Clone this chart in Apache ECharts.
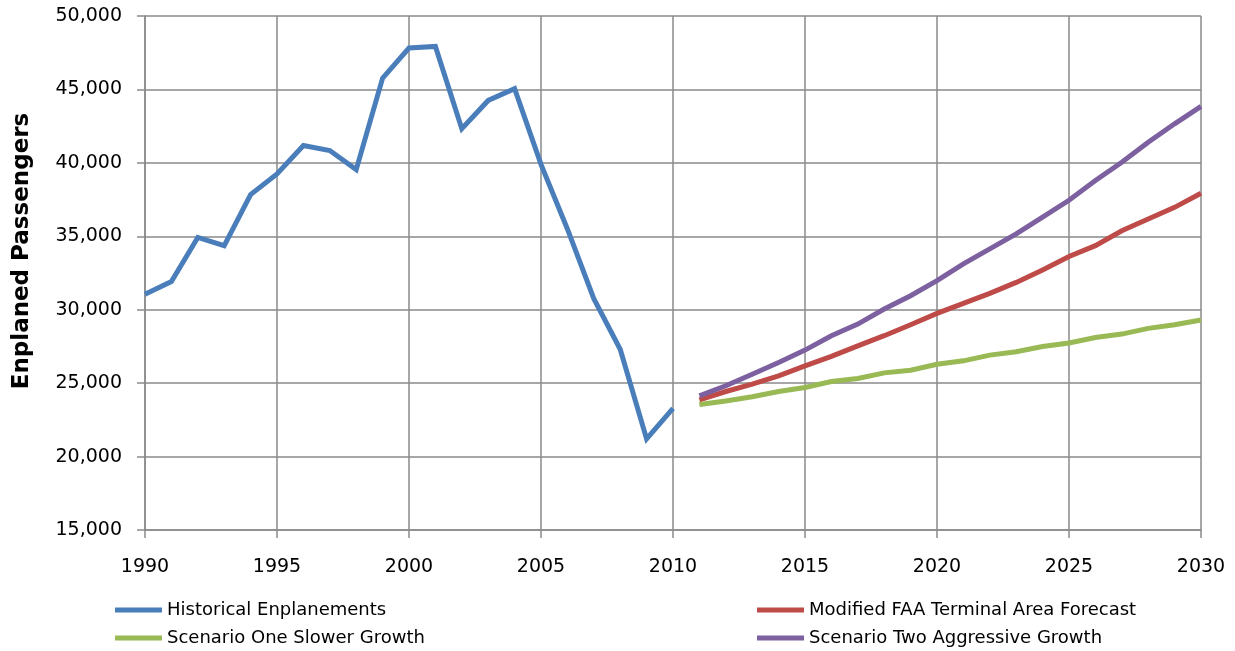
<!DOCTYPE html>
<html><head><meta charset="utf-8">
<script src="https://cdn.jsdelivr.net/npm/echarts@6/dist/echarts.min.js"></script>
<style>html,body{margin:0;padding:0;background:#fff}#c{width:1235px;height:651px}</style>
</head><body><div id="c"></div>
<script>
const histYears = [1990,1991,1992,1993,1994,1995,1996,1997,1998,1999,2000,2001,2002,2003,2004,2005,2006,2007,2008,2009,2010];
const historical = [31050,31920,34920,34360,37840,39250,41180,40840,39540,45770,47820,47930,42320,44250,45050,39900,35500,30750,27310,21200,23290];
const forecastYears = [2011,2012,2013,2014,2015,2016,2017,2018,2019,2020,2021,2022,2023,2024,2025,2026,2027,2028,2029,2030];
const modifiedFAA = [23860,24430,24930,25500,26180,26820,27540,28230,28980,29750,30430,31110,31860,32710,33620,34360,35380,36180,36970,37930];
const scenarioOne = [23540,23790,24070,24430,24700,25110,25320,25700,25880,26290,26520,26910,27140,27500,27730,28110,28340,28730,28980,29300];
const scenarioTwo = [24130,24820,25610,26410,27250,28230,29020,30050,30950,31980,33120,34140,35160,36300,37450,38800,40040,41400,42660,43840];
const yTicks = {min:15000, max:50000, step:5000};
const xTicks = {min:1990, max:2030, step:5};
const names = ['Historical Enplanements','Modified FAA Terminal Area Forecast','Scenario One Slower Growth','Scenario Two Aggressive Growth'];
const colors = ['#4A7EBB','#BE4B48','#98B954','#7D60A0'];

const pair = (xs, ys) => xs.map((x, i) => [x, ys[i]]);
const gridColor = '#8a8a8a';
const font = 'DejaVu Sans';

const chart = echarts.init(document.getElementById('c'), null, {renderer:'canvas'});
const mkSeries = (name, data, color) => ({
  name, type:'line', data, showSymbol:false, symbol:'none', smooth:false,
  lineStyle:{width:5, color, cap:'butt', join:'miter'}, itemStyle:{color}, animation:false
});
const legendCommon = {
  orient:'vertical', top:601, padding:0, height:60, itemWidth:47, itemHeight:5, itemGap:10, icon:'rect',
  textStyle:{fontFamily:font, fontSize:18, color:'#000', lineHeight:18}
};
chart.setOption({
  animation:false,
  backgroundColor:'#fff',
  grid:{left:145, right:34, top:16, bottom:121, containLabel:false},
  xAxis:{
    type:'value', min:xTicks.min, max:xTicks.max, interval:xTicks.step,
    axisLine:{show:true, lineStyle:{color:gridColor, width:1.5}},
    axisTick:{show:true, length:8, lineStyle:{color:gridColor, width:1.5}},
    splitLine:{show:true, lineStyle:{color:gridColor, width:1.5}},
    axisLabel:{formatter:v => String(v), fontFamily:font, fontSize:19, color:'#000', margin:28}
  },
  yAxis:{
    type:'value', min:yTicks.min, max:yTicks.max, interval:yTicks.step,
    axisLine:{show:true, lineStyle:{color:gridColor, width:1.5}},
    axisTick:{show:true, length:8, lineStyle:{color:gridColor, width:1.5}},
    splitLine:{show:true, lineStyle:{color:gridColor, width:1.5}},
    axisLabel:{fontFamily:font, fontSize:19, color:'#000', margin:23}
  },
  legend:[
    Object.assign({left:115, data:[names[0], names[2]]}, legendCommon),
    Object.assign({left:757, data:[names[1], names[3]]}, legendCommon)
  ],
  graphic:[{
    type:'text', x:22, y:251, rotation:Math.PI/2,
    style:{text:'Enplaned Passengers', font:'bold 23px "DejaVu Sans"', fill:'#000', align:'center', verticalAlign:'middle'}
  }],
  series:[
    mkSeries(names[0], pair(histYears, historical), colors[0]),
    mkSeries(names[1], pair(forecastYears, modifiedFAA), colors[1]),
    mkSeries(names[2], pair(forecastYears, scenarioOne), colors[2]),
    mkSeries(names[3], pair(forecastYears, scenarioTwo), colors[3])
  ]
});
</script>
</body></html>
